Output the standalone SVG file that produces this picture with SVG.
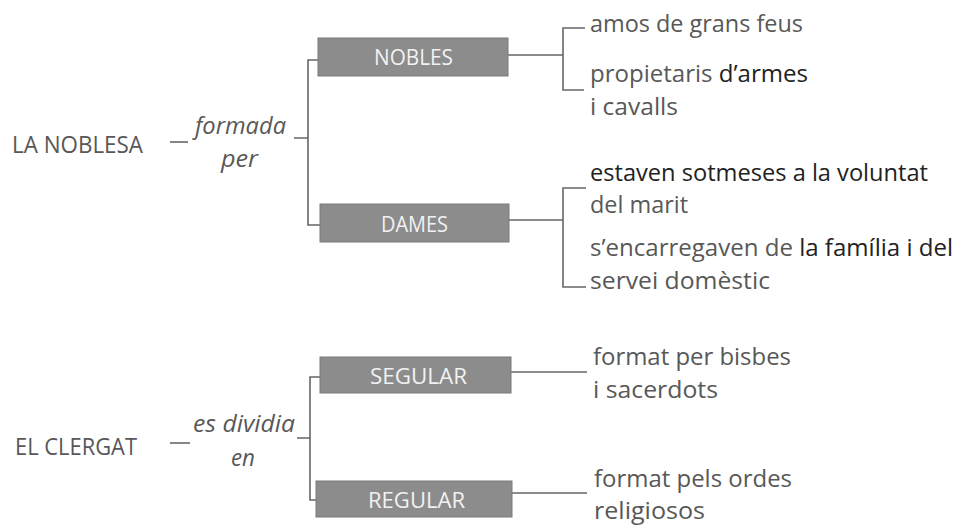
<svg xmlns="http://www.w3.org/2000/svg" width="968" height="530" viewBox="0 0 968 530">
<style>
.t{font-family:"Open Sans","Noto Sans",sans-serif;font-size:24px;fill:#585858}
.s{font-size:23px}
.d{fill:#222}
.i{font-style:italic}
.box{fill:#8c8c8c;stroke:#7a7a7a;stroke-width:1}
.bt{font-family:"Open Sans","Noto Sans",sans-serif;font-size:22px;fill:#f2f2f2}
.c{fill:none;stroke:#666;stroke-width:1.6}
</style>
<rect width="968" height="530" fill="#fff"/>
<g id="connectors">
<path class="c" d="M170 142 H188"/>
<path class="c" d="M294 138 H308 M318 60 H308 V225 H320"/>
<path class="c" d="M508 55 H563 M585 28 H563 V90 H584"/>
<path class="c" d="M509 220 H563 M586 188 H563 V287 H586"/>
<path class="c" d="M170 443 H190"/>
<path class="c" d="M297 438 H310 M320 377 H310 V500 H318"/>
<path class="c" d="M511 372 H587"/>
<path class="c" d="M512 493 H587"/>
</g>
<g id="la-noblesa"><text class="t" x="12" y="153" textLength="131" lengthAdjust="spacingAndGlyphs">LA NOBLESA</text></g>
<g id="formada-per">
<text class="t s i" x="195" y="134" textLength="91" lengthAdjust="spacingAndGlyphs">formada</text>
<text class="t s i" x="221" y="167" textLength="37" lengthAdjust="spacingAndGlyphs">per</text>
</g>
<g id="nobles"><rect class="box" x="318" y="38" width="190" height="38"/><text class="bt" x="374" y="65" textLength="79" lengthAdjust="spacingAndGlyphs">NOBLES</text></g>
<g id="dames"><rect class="box" x="320" y="204" width="189" height="38"/><text class="bt" x="381" y="232" textLength="67" lengthAdjust="spacingAndGlyphs">DAMES</text></g>
<g id="amos"><text class="t" x="590" y="32" textLength="213" lengthAdjust="spacingAndGlyphs">amos de grans feus</text></g>
<g id="propietaris">
<text class="t" x="590" y="82" textLength="218" lengthAdjust="spacingAndGlyphs">propietaris <tspan class="d">d’armes</tspan></text>
<text class="t" x="590" y="115" textLength="88" lengthAdjust="spacingAndGlyphs">i cavalls</text>
</g>
<g id="estaven">
<text class="t d" x="590" y="181" textLength="338" lengthAdjust="spacingAndGlyphs">estaven sotmeses a la voluntat</text>
<text class="t" x="590" y="213" textLength="98" lengthAdjust="spacingAndGlyphs">del marit</text>
</g>
<g id="encarregaven">
<text class="t" x="590" y="256" textLength="363" lengthAdjust="spacingAndGlyphs">s’encarregaven de <tspan class="d">la família i del</tspan></text>
<text class="t" x="590" y="289" textLength="180" lengthAdjust="spacingAndGlyphs">servei domèstic</text>
</g>
<g id="el-clergat"><text class="t" x="15" y="455" textLength="122" lengthAdjust="spacingAndGlyphs">EL CLERGAT</text></g>
<g id="es-dividia-en">
<text class="t s i" x="193" y="432" textLength="102" lengthAdjust="spacingAndGlyphs">es dividia</text>
<text class="t s i" x="231" y="466" textLength="24" lengthAdjust="spacingAndGlyphs">en</text>
</g>
<g id="segular"><rect class="box" x="320" y="357" width="191" height="36"/><text class="bt" x="370" y="384" textLength="97" lengthAdjust="spacingAndGlyphs">SEGULAR</text></g>
<g id="regular"><rect class="box" x="316" y="481" width="196" height="36"/><text class="bt" x="368" y="508" textLength="97" lengthAdjust="spacingAndGlyphs">REGULAR</text></g>
<g id="bisbes">
<text class="t" x="593" y="365" textLength="198" lengthAdjust="spacingAndGlyphs">format per bisbes</text>
<text class="t" x="593" y="398" textLength="125" lengthAdjust="spacingAndGlyphs">i sacerdots</text>
</g>
<g id="ordes">
<text class="t" x="594" y="487" textLength="198" lengthAdjust="spacingAndGlyphs">format pels ordes</text>
<text class="t" x="594" y="519" textLength="111" lengthAdjust="spacingAndGlyphs">religiosos</text>
</g>
</svg>
